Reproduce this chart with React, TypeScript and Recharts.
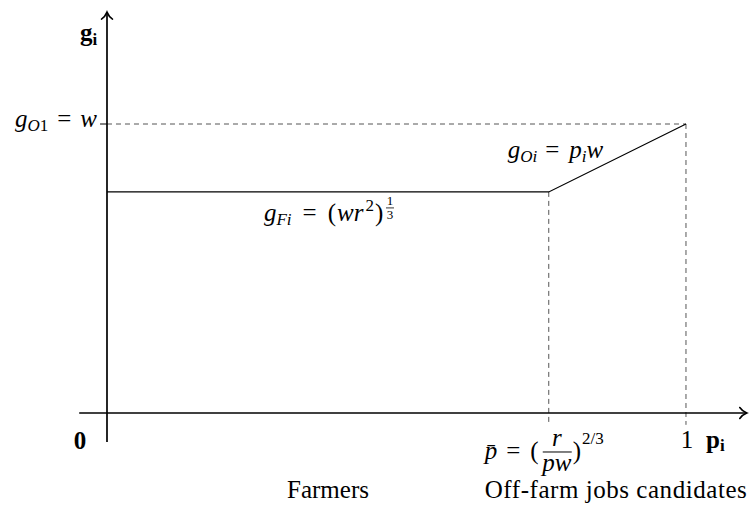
import {
  ComposedChart,
  Line,
  ReferenceDot,
  ReferenceLine,
  XAxis,
  YAxis,
} from "recharts";

// Income schedule g_i against productivity share p_i
const shares = [0, 0.763, 1];
const earnings = [0.765, 0.765, 1];

const P_BAR = shares[1];
const W = earnings[2];

// Extent of the drawn axes (in data units)
const X_AXIS_SPAN = [-0.048, 1.105];
const Y_AXIS_SPAN = [-0.1, 1.387];
const TICK_LEN = 0.041;

const curve = shares.map((p, i) => ({ p, g: earnings[i] }));

const SERIF = '"Liberation Serif", "DejaVu Serif", serif';
const DASH = "#555";
const FS = 25;
const SUB = 17;

const txt = { style: { fontFamily: SERIF }, fill: "#000" };

type DotProps = { cx?: number; cy?: number };

const arrowLine = (p: any) => (
  <line
    x1={p.x1}
    y1={p.y1}
    x2={p.x2}
    y2={p.y2}
    stroke="#000"
    strokeWidth={1.7}
    markerEnd="url(#axis-arrow)"
  />
);

export default function App() {
  return (
    <div style={{ position: "absolute", left: 0, top: 0 }}>
      <svg width={0} height={0} style={{ position: "absolute" }}>
        <defs>
          <marker
            id="axis-arrow"
            markerUnits="userSpaceOnUse"
            viewBox="-10 -10 20 20"
            markerWidth={20}
            markerHeight={20}
            refX={0}
            refY={0}
            orient="auto"
          >
            <path
              d="M -7 -5.5 C -5 -2.5 -2 -0.8 0 0 C -2 0.8 -5 2.5 -7 5.5"
              fill="none"
              stroke="#000"
              strokeWidth={1.6}
              strokeLinecap="round"
            />
          </marker>
        </defs>
      </svg>
      <ComposedChart
        width={751}
        height={507}
        data={curve}
        margin={{ top: 0, right: 0, bottom: 0, left: 0 }}
      >
        <XAxis type="number" dataKey="p" domain={[-0.1848, 1.1123]} hide allowDataOverflow />
        <YAxis type="number" domain={[-0.3253, 1.4291]} hide allowDataOverflow />

        {/* dashed guides */}
        <ReferenceLine
          segment={[{ x: 0, y: W }, { x: 1, y: W }]}
          stroke={DASH}
          strokeDasharray="5 4"
          strokeWidth={1}
          ifOverflow="visible"
        />
        <ReferenceLine
          segment={[{ x: -0.012, y: W }, { x: 0, y: W }]}
          stroke="#000"
          strokeWidth={1}
          ifOverflow="visible"
        />
        <ReferenceLine
          segment={[{ x: P_BAR, y: earnings[1] }, { x: P_BAR, y: -TICK_LEN }]}
          stroke={DASH}
          strokeDasharray="5 4"
          strokeWidth={1}
          ifOverflow="visible"
        />
        <ReferenceLine
          segment={[{ x: 1, y: W }, { x: 1, y: -TICK_LEN }]}
          stroke={DASH}
          strokeDasharray="5 4"
          strokeWidth={1}
          ifOverflow="visible"
        />

        {/* axes with arrow tips */}
        <ReferenceLine
          segment={[{ x: X_AXIS_SPAN[0], y: 0 }, { x: X_AXIS_SPAN[1], y: 0 }]}
          ifOverflow="visible"
          shape={arrowLine}
        />
        <ReferenceLine
          segment={[{ x: 0, y: Y_AXIS_SPAN[0] }, { x: 0, y: Y_AXIS_SPAN[1] }]}
          ifOverflow="visible"
          shape={arrowLine}
        />

        <Line
          dataKey="g"
          stroke="#000"
          strokeWidth={1.2}
          dot={false}
          activeDot={false}
          isAnimationActive={false}
        />

        {/* axis names */}
        <ReferenceDot
          x={0}
          y={Y_AXIS_SPAN[1]}
          r={0}
          ifOverflow="visible"
          shape={({ cx = 0, cy = 0 }: DotProps) => (
            <text {...txt} x={cx - 27} y={cy + 29} fontSize={FS} fontWeight="bold">
              g<tspan dy={4} fontSize={SUB}>i</tspan>
            </text>
          )}
        />
        <ReferenceDot
          x={0}
          y={0}
          r={0}
          ifOverflow="visible"
          shape={({ cx = 0, cy = 0 }: DotProps) => (
            <text {...txt} x={cx - 27} y={cy + 36} fontSize={FS} fontWeight="bold" textAnchor="middle">
              0
            </text>
          )}
        />
        <ReferenceDot
          x={1}
          y={0}
          r={0}
          ifOverflow="visible"
          shape={({ cx = 0, cy = 0 }: DotProps) => (
            <g>
              <text {...txt} x={cx + 1} y={cy + 35} fontSize={FS} textAnchor="middle">
                1
              </text>
              <text {...txt} x={cx + 20} y={cy + 35} fontSize={FS} fontWeight="bold">
                p<tspan dy={3} fontSize={SUB}>i</tspan>
              </text>
            </g>
          )}
        />

        {/* level of off-farm wage */}
        <ReferenceDot
          x={0}
          y={W}
          r={0}
          ifOverflow="visible"
          shape={({ cx = 0, cy = 0 }: DotProps) => (
            <text {...txt} x={cx - 10} y={cy + 3} fontSize={FS} textAnchor="end">
              <tspan fontStyle="italic">g</tspan>
              <tspan dy={4} fontSize={SUB} fontStyle="italic">O</tspan>
              <tspan fontSize={SUB}>1</tspan>
              <tspan dx={9} dy={-4}>=</tspan>
              <tspan dx={9} fontStyle="italic">w</tspan>
            </text>
          )}
        />

        {/* farm income */}
        <ReferenceDot
          x={0}
          y={earnings[0]}
          r={0}
          ifOverflow="visible"
          shape={({ cx = 0, cy = 0 }: DotProps) => (
            <g>
              <text {...txt} x={cx + 157} y={cy + 29} fontSize={FS}>
                <tspan fontStyle="italic">g</tspan>
                <tspan dy={4} fontSize={SUB} fontStyle="italic">Fi</tspan>
                <tspan dx={11} dy={-4}>=</tspan>
                <tspan dx={11}>(</tspan>
                <tspan dx={1} fontStyle="italic">wr</tspan>
                <tspan dx={2} dy={-10} fontSize={SUB}>2</tspan>
                <tspan dx={1} dy={10}>)</tspan>
              </text>
              <text {...txt} x={cx + 283} y={cy + 13} fontSize={13} textAnchor="middle">
                1
              </text>
              <line x1={cx + 279} y1={cy + 16} x2={cx + 287} y2={cy + 16} stroke="#000" strokeWidth={0.8} />
              <text {...txt} x={cx + 283} y={cy + 27} fontSize={13} textAnchor="middle">
                3
              </text>
            </g>
          )}
        />

        {/* off-farm income */}
        <ReferenceDot
          x={P_BAR}
          y={earnings[1]}
          r={0}
          ifOverflow="visible"
          shape={({ cx = 0, cy = 0 }: DotProps) => (
            <text {...txt} x={cx - 41} y={cy - 34} fontSize={FS}>
              <tspan fontStyle="italic">g</tspan>
              <tspan dy={4} fontSize={SUB} fontStyle="italic">Oi</tspan>
              <tspan dx={8} dy={-4}>=</tspan>
              <tspan dx={10} fontStyle="italic">p</tspan>
              <tspan dy={4} fontSize={SUB} fontStyle="italic">i</tspan>
              <tspan dy={-4} fontStyle="italic">w</tspan>
            </text>
          )}
        />

        {/* threshold share */}
        <ReferenceDot
          x={P_BAR}
          y={0}
          r={0}
          ifOverflow="visible"
          shape={({ cx = 0, cy = 0 }: DotProps) => (
            <g>
              <text {...txt} x={cx - 64} y={cy + 46} fontSize={FS}>
                <tspan fontStyle="italic">p̄</tspan>
                <tspan dx={9}>=</tspan>
                <tspan dx={10}>(</tspan>
              </text>
              <text {...txt} x={cx + 8} y={cy + 33} fontSize={FS} fontStyle="italic" textAnchor="middle">
                r
              </text>
              <line x1={cx - 6} y1={cy + 39} x2={cx + 23} y2={cy + 39} stroke="#000" strokeWidth={1} />
              <text {...txt} x={cx + 8} y={cy + 58} fontSize={FS} fontStyle="italic" textAnchor="middle">
                pw
              </text>
              <text {...txt} x={cx + 24} y={cy + 46} fontSize={FS}>
                )<tspan dx={1} dy={-15} fontSize={SUB}>2/3</tspan>
              </text>
            </g>
          )}
        />

        {/* group captions */}
        <ReferenceDot
          x={0}
          y={Y_AXIS_SPAN[0]}
          r={0}
          ifOverflow="visible"
          shape={({ cx = 0, cy = 0 }: DotProps) => (
            <text {...txt} x={cx + 180} y={cy + 56} fontSize={FS} textLength={82} lengthAdjust="spacing">
              Farmers
            </text>
          )}
        />
        <ReferenceDot
          x={P_BAR}
          y={Y_AXIS_SPAN[0]}
          r={0}
          ifOverflow="visible"
          shape={({ cx = 0, cy = 0 }: DotProps) => (
            <text {...txt} x={cx - 64} y={cy + 56} fontSize={FS} textLength={262} lengthAdjust="spacing">
              Off-farm jobs candidates
            </text>
          )}
        />
      </ComposedChart>
    </div>
  );
}
